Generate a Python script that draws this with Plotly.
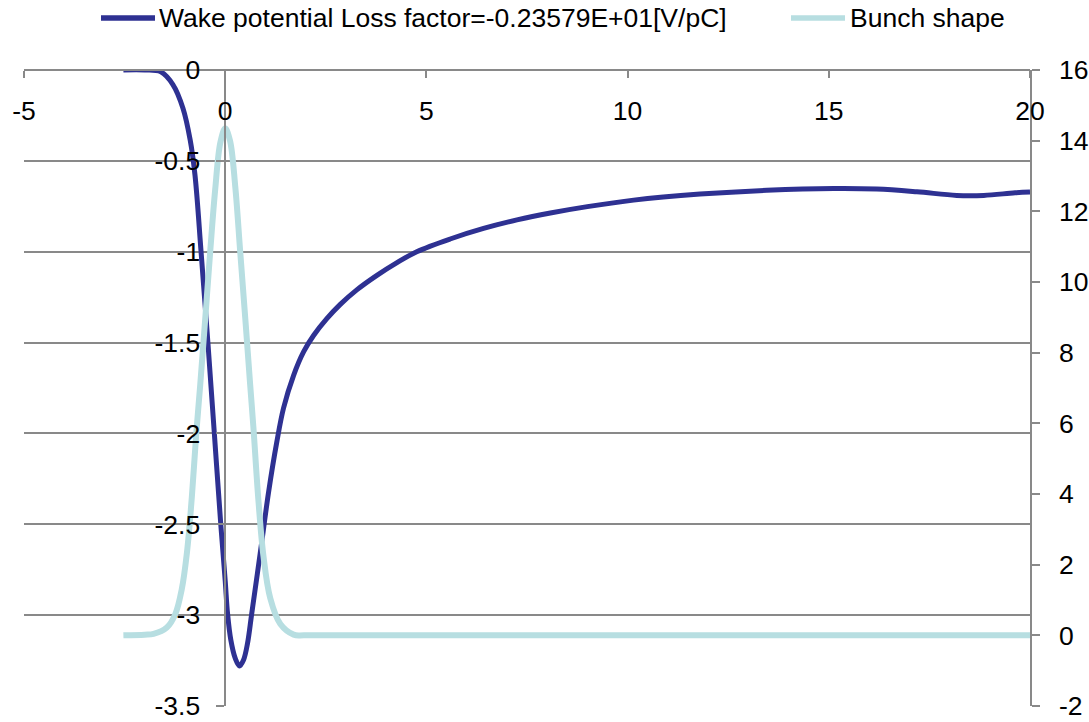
import plotly.graph_objects as go

# ---- data ----
wake_x = [-2.53, -2.0, -1.6, -1.3, -1.05, -0.87, -0.75, -0.6, -0.43, -0.27, -0.11, 0.0, 0.058,
          0.14, 0.25, 0.356, 0.455, 0.555, 0.66, 0.87, 1.08, 1.28, 1.45, 1.70, 1.95, 2.2, 2.52,
          2.86, 3.27, 3.77, 4.27, 4.76, 5.59, 6.42, 7.25, 8.08, 9.0, 10.15, 11.8, 13.46, 15.12,
          16.19, 17.19, 18.18, 18.85, 19.63, 20.0]
wake_y = [0, 0, -0.01, -0.08, -0.21, -0.385, -0.58, -1.0, -1.5, -2.0, -2.5, -2.81, -2.99,
          -3.137, -3.238, -3.28, -3.247, -3.155, -2.99, -2.66, -2.32, -2.05, -1.86, -1.68, -1.55,
          -1.46, -1.37, -1.29, -1.21, -1.13, -1.06, -1.0, -0.93, -0.872, -0.825, -0.787, -0.752,
          -0.716, -0.683, -0.662, -0.652, -0.655, -0.67, -0.69, -0.69, -0.676, -0.672]

bunch_x = [-2.53, -2.0, -1.78, -1.45, -1.24, -1.08, -0.95, -0.83, -0.72, -0.62, -0.50, -0.37, -0.25,
           -0.12, 0.0, 0.12, 0.25, 0.37, 0.50, 0.62, 0.70, 0.83, 0.95, 1.12, 1.37, 1.70, 2.0, 20.0]
bunch_y = [0, 0.02, 0.04, 0.22, 0.6, 1.3, 2.35, 3.9, 5.7, 7.1, 8.9, 10.9, 12.6,
           13.95, 14.35, 14.0, 12.7, 10.9, 8.95, 7.1, 5.9, 3.75, 2.25, 1.05, 0.32, 0.02, 0, 0]

x_ticks = [-5, 0, 5, 10, 15, 20]
x_ticktext = ["-5", "0", "5", "10", "15", "20"]
y1_ticks = [0, -0.5, -1, -1.5, -2, -2.5, -3, -3.5]
y1_ticktext = ["0", "-0.5", "-1", "-1.5", "-2", "-2.5", "-3", "-3.5"]
y2_ticks = [-2, 0, 2, 4, 6, 8, 10, 12, 14, 16]
y2_ticktext = ["-2", "0", "2", "4", "6", "8", "10", "12", "14", "16"]

name_wake = "Wake potential Loss factor=-0.23579E+01[V/pC]"
name_bunch = "Bunch shape"

WAKE_COLOR = "#2E3192"
BUNCH_COLOR = "#B7DEE1"
GRID = "#898989"
FONT = "Liberation Sans, Arial, sans-serif"
FS = 26.5

fig = go.Figure()
fig.add_trace(go.Scatter(x=wake_x, y=wake_y, mode="lines", name=name_wake,
                         line=dict(color=WAKE_COLOR, width=5, shape="spline", smoothing=1.0),
                         yaxis="y", showlegend=False))
fig.add_trace(go.Scatter(x=bunch_x, y=bunch_y, mode="lines", name=name_bunch,
                         line=dict(color=BUNCH_COLOR, width=6, shape="spline", smoothing=1.0),
                         yaxis="y2", showlegend=False))

W, H = 1089, 722
L, R, T, B = 24, 59, 70, 16
pw, ph = W - L - R, H - T - B

def px(xp):
    return (xp - L) / pw

def py(yp):
    return (H - B - yp) / ph

# custom legend (Excel style long samples)
ly = py(18)
fig.add_shape(type="line", xref="paper", yref="paper", x0=px(101), x1=px(155), y0=ly, y1=ly,
              line=dict(color=WAKE_COLOR, width=5.5))
fig.add_shape(type="line", xref="paper", yref="paper", x0=px(791), x1=px(845), y0=ly, y1=ly,
              line=dict(color=BUNCH_COLOR, width=5.5))
fig.add_annotation(xref="paper", yref="paper", x=px(157), y=ly, text=name_wake, showarrow=False,
                   xanchor="left", yanchor="middle", font=dict(size=FS, color="black", family=FONT))
fig.add_annotation(xref="paper", yref="paper", x=px(848), y=ly, text=name_bunch, showarrow=False,
                   xanchor="left", yanchor="middle", font=dict(size=FS, color="black", family=FONT))

fig.update_layout(
    width=W, height=H,
    margin=dict(l=L, r=R, t=T, b=B, pad=0),
    paper_bgcolor="white", plot_bgcolor="white",
    font=dict(family=FONT, size=FS, color="black"),
    showlegend=False,
    xaxis=dict(range=[-5, 20], side="bottom", anchor="free", position=1.0,
               tickvals=x_ticks, ticktext=x_ticktext,
               ticks="outside", ticklen=7, tickwidth=1.5, tickcolor=GRID,
               ticklabelstandoff=10,
               showline=True, linecolor=GRID, linewidth=1.5, showgrid=False, zeroline=False,
               automargin=False),
    yaxis=dict(range=[-3.5, 0], tickvals=y1_ticks, ticktext=y1_ticktext,
               anchor="free", position=0.2, side="left",
               showline=True, linecolor=GRID, linewidth=1.5,
               showgrid=True, gridcolor=GRID, gridwidth=1.5,
               ticks="outside", ticklen=8, tickwidth=1.5, tickcolor=GRID,
               ticklabelstandoff=11,
               zeroline=False, automargin=False),
    yaxis2=dict(range=[-2, 16], tickvals=y2_ticks, ticktext=y2_ticktext,
                overlaying="y", side="right", anchor="x",
                showline=True, linecolor=GRID, linewidth=1.5, showgrid=False,
                ticks="outside", ticklen=8, tickwidth=1.5, tickcolor=GRID,
                ticklabelstandoff=14,
                zeroline=False, automargin=False),
)

fig.write_html("out.html")
